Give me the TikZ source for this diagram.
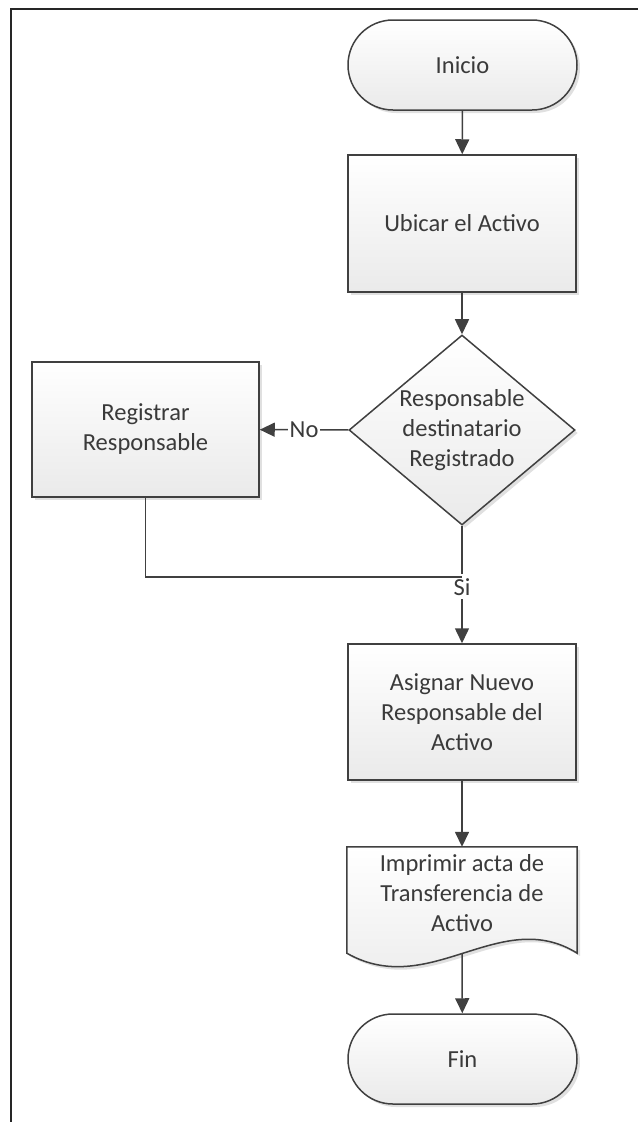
\documentclass[tikz,border=0pt]{standalone}
\usepackage{fontspec}
\setmainfont{Carlito}
\usetikzlibrary{arrows.meta,shadows,shapes.geometric}
\definecolor{linec}{HTML}{404040}
\definecolor{textc}{HTML}{3A3A3A}
\definecolor{fillb}{HTML}{EAEAEA}
\begin{document}
\begin{tikzpicture}[x=1pt,y=-1pt,
  shapebase/.style={draw=linec, line width=1.5pt, top color=white, bottom color=fillb,
    drop shadow={shadow xshift=3pt, shadow yshift=-3pt, opacity=0.12, fill=black}},
  txt/.style={text=textc, align=center, font=\fontsize{24.5}{30}\selectfont, inner sep=0pt},
  procbox/.style={shapebase, txt, rectangle, minimum width=228, minimum height=136},
  termbox/.style={shapebase, txt, rectangle, rounded corners=45pt, minimum width=229, minimum height=90},
  decbox/.style={shapebase, diamond, inner sep=0pt, minimum width=226, minimum height=190},
  conn/.style={draw=linec, line width=1.5pt},
  arr/.style={conn, -{Triangle[length=15pt,width=14pt]}},
  lbl/.style={txt, fill=white, inner sep=2pt}
]
\useasboundingbox (0,0) rectangle (638,1122);
% frame
\draw[black!85, line width=2pt] (11,1122) -- (11,9) -- (638,9);

% nodes
\node[termbox] (ini) at (462.5,65) {Inicio};
\node[procbox, minimum height=137] (ubi) at (462,223.5) {Ubicar el Activo};
\node[decbox] (dec) at (462,430) {};
\node[txt] (dectxt) at (dec.center) {Responsable\\destinatario\\Registrado};
\node[procbox, minimum width=227, minimum height=135] (reg) at (145.5,429.5) {Registrar\\Responsable};
\node[procbox] (asg) at (462,712) {Asignar Nuevo\\Responsable del\\Activo};
\node[minimum width=230, minimum height=106, inner sep=0pt] (imp) at (462,900) {};
\path[shapebase] (imp.north west) -- (imp.north east) -- (imp.south east)
   .. controls +(-77,-48) and +(83,47) .. (imp.south west) -- cycle;
\node[txt] (imptxt) at (462,893) {Imprimir acta de\\Transferencia de\\Activo};
\node[termbox] (fin) at (462.5,1059) {Fin};

% connectors
\draw[arr] (ini) -- (ubi);
\draw[arr] (ubi) -- (dec);
\draw[arr] (dec) -- node[lbl] (no) {No} (reg);
\draw[arr] (dec) -- node[lbl, pos=0.52, inner sep=4pt] (si) {Si} (asg);
\coordinate (join) at (462,577);
\draw[conn] (reg.south) |- (join);
\draw[arr] (asg) -- (imp.north);
\draw[arr] (imp.south) -- (fin);
\end{tikzpicture}
\end{document}
